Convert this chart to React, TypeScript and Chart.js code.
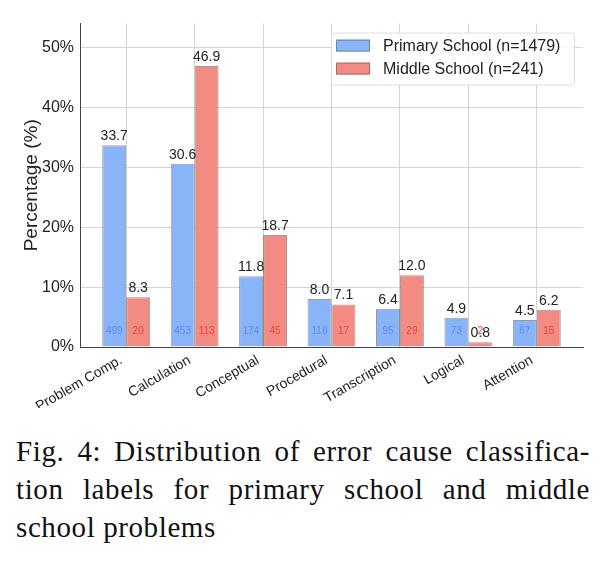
import React, { useEffect, useRef } from "react";
import { Chart, registerables } from "chart.js";

Chart.register(...registerables);

const categories = ["Problem Comp.", "Calculation", "Conceptual", "Procedural", "Transcription", "Logical", "Attention"];
const primaryPct = [33.7, 30.6, 11.8, 8.0, 6.4, 4.9, 4.5];
const middlePct = [8.3, 46.9, 18.7, 7.1, 12.0, 0.8, 6.2];
const primaryCount = [499, 453, 174, 118, 95, 73, 67];
const middleCount = [20, 113, 45, 17, 29, 2, 15];
const seriesNames = ["Primary School (n=1479)", "Middle School (n=241)"];
const yTicks = [0, 10, 20, 30, 40, 50];

const BLUE = "#8ab4f8";
const RED = "#f28b82";
const BLUE_TXT = "#5b8def";
const RED_TXT = "#e8453c";
const FONT = "'Liberation Sans', Arial, sans-serif";

const labelsPlugin = {
  id: "barLabels",
  afterDatasetsDraw(chart: any) {
    const ctx = chart.ctx;
    const counts = [primaryCount, middleCount];
    const txtColors = [BLUE_TXT, RED_TXT];
    ctx.save();
    chart.data.datasets.forEach((ds: any, di: number) => {
      const meta = chart.getDatasetMeta(di);
      meta.data.forEach((bar: any, i: number) => {
        const v = ds.data[i].y;
        ctx.fillStyle = "#222";
        ctx.font = `14px ${FONT}`;
        ctx.textAlign = "center";
        ctx.textBaseline = "bottom";
        ctx.fillText(v.toFixed(1), bar.x, bar.y - 2);
        ctx.fillStyle = txtColors[di];
        ctx.font = `10px ${FONT}`;
        ctx.textBaseline = "middle";
        ctx.fillText(String(counts[di][i]), bar.x, bar.base - 15);
      });
    });
    ctx.restore();
  },
};

const legendPlugin = {
  id: "innerLegend",
  afterDraw(chart: any) {
    const ctx = chart.ctx;
    const area = chart.chartArea;
    const w = 243, h = 52;
    const x = area.right - 9 - w;
    const y = area.top + 9;
    ctx.save();
    ctx.fillStyle = "rgba(255,255,255,0.85)";
    ctx.strokeStyle = "#dddddd";
    ctx.lineWidth = 1;
    ctx.beginPath();
    (ctx as any).roundRect(x + 0.5, y + 0.5, w, h, 3);
    ctx.fill();
    ctx.stroke();
    chart.data.datasets.forEach((ds: any, di: number) => {
      const cy = y + 13 + di * 23;
      ctx.fillStyle = ds.backgroundColor;
      ctx.fillRect(x + 5, cy - 6, 34, 12);
      ctx.strokeStyle = "rgba(80,80,80,0.5)";
      ctx.strokeRect(x + 5.5, cy - 5.5, 33, 11);
      ctx.fillStyle = "#222";
      ctx.font = `16px ${FONT}`;
      ctx.textAlign = "left";
      ctx.textBaseline = "middle";
      ctx.fillText(seriesNames[di], x + 52, cy + 1);
    });
    ctx.restore();
  },
};

export default function App() {
  const ref = useRef<HTMLCanvasElement>(null);
  useEffect(() => {
    if (!ref.current) return;
    const chart = new Chart(ref.current, {
      type: "bar",
      data: {
        datasets: [
          {
            label: seriesNames[0],
            data: primaryPct.map((y, i) => ({ x: i, y })),
            backgroundColor: BLUE,
            borderColor: "rgba(70,70,70,0.55)",
            borderWidth: 1,
          },
          {
            label: seriesNames[1],
            data: middlePct.map((y, i) => ({ x: i, y })),
            backgroundColor: RED,
            borderColor: "rgba(70,70,70,0.55)",
            borderWidth: 1,
          },
        ],
      },
      options: {
        animation: false,
        responsive: false,
        maintainAspectRatio: false,
        categoryPercentage: 0.7,
        barPercentage: 1.0,
        layout: { padding: { left: 0, right: 16, top: 12, bottom: 0 } },
        plugins: { legend: { display: false }, tooltip: { enabled: false } },
        scales: {
          x: {
            type: "linear",
            offset: false,
            min: -0.675,
            max: 6.675,
            afterBuildTicks: (scale: any) => {
              scale.ticks = categories.map((_, i) => ({ value: i }));
            },
            afterFit: (scale: any) => {
              scale.height = 61;
            },
            ticks: {
              autoSkip: false,
              minRotation: 30,
              maxRotation: 30,
              padding: 5,
              labelOffset: -5,
              color: "#222",
              font: { family: FONT, size: 14 },
              callback: (v: any) => categories[v] ?? "",
            },
            grid: { color: "#d4d4d4", lineWidth: 1, drawTicks: false, offset: false },
            border: { display: true, color: "#444", width: 1 },
          },
          y: {
            min: 0,
            max: 54,
            afterBuildTicks: (scale: any) => {
              scale.ticks = yTicks.map((v) => ({ value: v }));
            },
            afterFit: (scale: any) => {
              scale.width = 72;
            },
            ticks: {
              padding: 6,
              color: "#222",
              font: { family: FONT, size: 16 },
              callback: (v: any) => `${v}%`,
            },
            grid: { color: "#d4d4d4", lineWidth: 1, drawTicks: false },
            border: { display: true, color: "#444", width: 1 },
            title: {
              display: true,
              text: "Percentage (%)",
              color: "#222",
              font: { family: FONT, size: 19 },
              padding: { top: 12, bottom: 0 },
            },
          },
        },
      },
      plugins: [labelsPlugin, legendPlugin],
    } as any);
    return () => chart.destroy();
  }, []);

  const lineStyle: React.CSSProperties = {
    textAlign: "justify",
    textAlignLast: "justify",
    whiteSpace: "nowrap",
  };

  return (
    <div>
      <canvas ref={ref} width={591} height={400} style={{ display: "block", width: 591, height: 400 }} />
      <div
        style={{
          marginTop: 24,
          marginLeft: 8,
          width: 574,
          fontFamily: "'Liberation Serif', 'Times New Roman', serif",
          fontSize: 29,
          letterSpacing: "0.6px",
          lineHeight: "38px",
          color: "#111",
        }}
      >
        <div style={lineStyle}>Fig. 4: Distribution of error cause classifica-</div>
        <div style={lineStyle}>tion labels for primary school and middle</div>
        <div>school problems</div>
      </div>
    </div>
  );
}
